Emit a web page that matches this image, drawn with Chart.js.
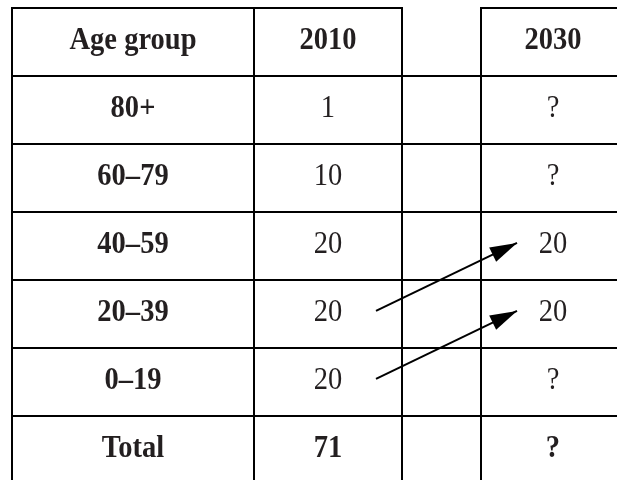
<!DOCTYPE html>
<html>
<head>
<meta charset="utf-8">
<script src="https://cdn.jsdelivr.net/npm/chart.js@4.4.1/dist/chart.umd.min.js"></script>
<style>
    html, body { margin: 0; padding: 0; background: #fff; overflow: hidden; }
    #contenedor { width: 617px; height: 480px; overflow: hidden; }
</style>
</head>
<body>
<div id="contenedor"><canvas id="tabla" width="617" height="484"></canvas></div>
<script>
/**
 * DATOS DE LA TABLA
 */
const encabezados = ['Age group', '2010', '', '2030'];
const gruposEdad = ['80+', '60–79', '40–59', '20–39', '0–19'];
const valores2010 = ['1', '10', '20', '20', '20'];
const valores2030 = ['?', '?', '20', '20', '?'];
const totales = ['Total', '71', '', '?'];

// Flechas: del grupo en 2010 al grupo en 2030
const flechasDesde = ['20–39', '0–19'];
const flechasHasta = ['40–59', '20–39'];

/**
 * DISEÑO (no son datos)
 */
const BORDES_COL = [12, 254, 402, 481, 625];   // en unidades del eje x (0..617)
const FLECHA_X0 = 376;
const FLECHA_X1 = 517;
const FLECHA_DY = -0.045;                       // ligero desplazamiento sobre el centro de fila
const COLOR_LINEA = '#000';
const COLOR_TEXTO = '#231f20';
const FUENTE = '"Liberation Serif", "Times New Roman", serif';
const TAM_FUENTE = 31;
const ESCALA_X_TEXTO = 0.92;                    // letra algo estrecha, como en el original

const totalFilas = gruposEdad.length + 2;        // encabezado + grupos + total

function filaDe(grupo) {
    return gruposEdad.indexOf(grupo) + 1;
}

// Filas de texto: celdas por columna y si van en negrita
function construirFilas() {
    const filas = [{ celdas: encabezados, negrita: [true, true, true, true] }];
    gruposEdad.forEach(function (g, i) {
        filas.push({ celdas: [g, valores2010[i], '', valores2030[i]], negrita: [true, false, false, false] });
    });
    filas.push({ celdas: totales, negrita: [true, true, true, true] });
    return filas;
}

/**
 * Plugin: cuadrícula de la tabla, cabezas de flecha y textos
 */
const pluginTabla = {
    id: 'pluginTabla',
    beforeDatasetsDraw(chart) {
        const ctx = chart.ctx;
        const x = chart.scales.x;
        const y = chart.scales.y;
        const px = function (v) { return x.getPixelForValue(v); };
        const py = function (v) { return y.getPixelForValue(v); };
        const arriba = py(-0.5);
        const abajo = py(totalFilas - 0.5);

        ctx.save();
        ctx.strokeStyle = COLOR_LINEA;
        ctx.lineWidth = 2;
        ctx.beginPath();
        // borde superior (la columna vacía no lo tiene)
        ctx.moveTo(px(BORDES_COL[0]) - 1, arriba);
        ctx.lineTo(px(BORDES_COL[2]) + 1, arriba);
        ctx.moveTo(px(BORDES_COL[3]) - 1, arriba);
        ctx.lineTo(px(BORDES_COL[4]) + 1, arriba);
        // líneas verticales
        BORDES_COL.forEach(function (c) {
            ctx.moveTo(px(c), arriba);
            ctx.lineTo(px(c), abajo);
        });
        // líneas horizontales
        for (let r = 0; r < totalFilas; r++) {
            const yy = py(r + 0.5);
            ctx.moveTo(px(BORDES_COL[0]) - 1, yy);
            ctx.lineTo(px(BORDES_COL[4]) + 1, yy);
        }
        ctx.stroke();
        ctx.restore();
    },
    afterDatasetsDraw(chart) {
        const ctx = chart.ctx;
        const x = chart.scales.x;
        const y = chart.scales.y;
        const filas = construirFilas();

        // cabezas de flecha
        chart.data.datasets.forEach(function (ds, i) {
            const puntos = chart.getDatasetMeta(i).data;
            const p0 = puntos[0], p1 = puntos[puntos.length - 1];
            const ang = Math.atan2(p1.y - p0.y, p1.x - p0.x);
            const largo = 27, medio = 8;
            const bx = p1.x - largo * Math.cos(ang);
            const by = p1.y - largo * Math.sin(ang);
            ctx.save();
            ctx.fillStyle = COLOR_LINEA;
            ctx.beginPath();
            ctx.moveTo(p1.x, p1.y);
            ctx.lineTo(bx - medio * Math.sin(ang), by + medio * Math.cos(ang));
            ctx.lineTo(bx + medio * Math.sin(ang), by - medio * Math.cos(ang));
            ctx.closePath();
            ctx.fill();
            ctx.restore();
        });

        // textos
        filas.forEach(function (fila, r) {
            const yy = y.getPixelForValue(r) + 7;
            fila.celdas.forEach(function (texto, c) {
                if (!texto) return;
                const xc = x.getPixelForValue((BORDES_COL[c] + BORDES_COL[c + 1]) / 2);
                ctx.save();
                ctx.fillStyle = COLOR_TEXTO;
                ctx.textAlign = 'center';
                ctx.textBaseline = 'alphabetic';
                ctx.font = (fila.negrita[c] ? 'bold ' : '') + TAM_FUENTE + 'px ' + FUENTE;
                ctx.translate(xc, yy);
                ctx.scale(ESCALA_X_TEXTO, 1);
                ctx.fillText(texto, 0, 0);
                ctx.restore();
            });
        });
    }
};

/**
 * Datasets de flechas
 */
const datasetsFlechas = flechasDesde.map(function (desde, i) {
    return {
        data: [
            { x: FLECHA_X0, y: filaDe(desde) + FLECHA_DY },
            { x: FLECHA_X1, y: filaDe(flechasHasta[i]) + FLECHA_DY }
        ],
        showLine: true,
        borderColor: COLOR_LINEA,
        borderWidth: 2,
        pointRadius: 0,
        fill: false
    };
});

new Chart(document.getElementById('tabla'), {
    type: 'scatter',
    data: { datasets: datasetsFlechas },
    options: {
        responsive: false,
        animation: false,
        devicePixelRatio: 1,
        layout: { padding: { top: 8, left: 0, right: 0, bottom: 0 } },
        plugins: {
            legend: { display: false },
            tooltip: { enabled: false }
        },
        scales: {
            x: { type: 'linear', min: 0, max: 617, display: false },
            y: { type: 'linear', min: -0.5, max: totalFilas - 0.5, reverse: true, display: false }
        }
    },
    plugins: [pluginTabla]
});
</script>
</body>
</html>
